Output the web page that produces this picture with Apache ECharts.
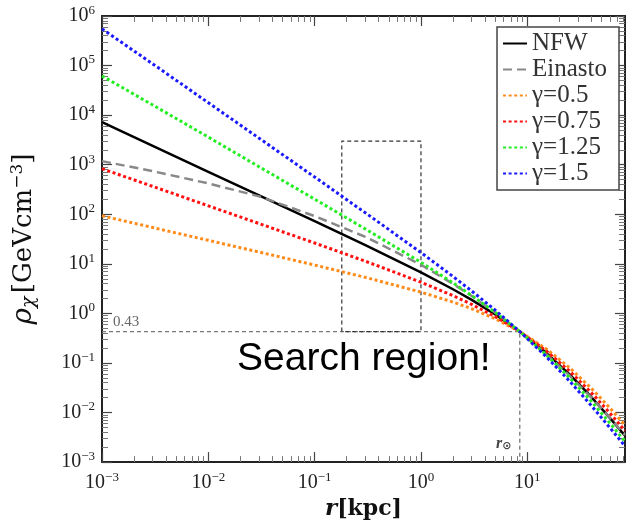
<!DOCTYPE html>
<html>
<head>
<meta charset="utf-8">
<title>Dark matter density profiles</title>
<script src="https://cdn.jsdelivr.net/npm/echarts@6.0.0/dist/echarts.min.js"></script>
<style>
  html, body { margin: 0; padding: 0; background: #fff; }
  #chart { width: 628px; height: 526px; }
</style>
</head>
<body>
<div id="chart"></div>
<script>
// galactocentric radius in kpc
const radius = [0.001, 0.003, 0.01, 0.03, 0.1, 0.3, 1, 2, 3, 5, 8.5, 15, 25, 40, 60, 83];

// density in GeV/cm^3
const nfw = [7200, 2400, 720, 240, 72.5, 23.8, 6.75, 3.07, 1.87, 0.95, 0.43, 0.162, 0.0586, 0.0206, 0.0077, 0.0034];
const einasto = [1180, 740, 420, 230, 92, 35, 9.6, 3.95, 2.24, 1.03, 0.43, 0.153, 0.0555, 0.0201, 0.0078, 0.0035];
const gamma05 = [93, 54, 29.8, 17.3, 9.45, 5.33, 2.69, 1.69, 1.24, 0.778, 0.43, 0.194, 0.080, 0.0308, 0.0123, 0.0055];
const gamma075 = [830, 365, 148, 65, 26.3, 11.3, 4.26, 2.28, 1.52, 0.86, 0.43, 0.177, 0.0685, 0.0252, 0.0097, 0.0043];
const gamma125 = [62000, 16000, 3600, 910, 202, 50.5, 10.7, 4.13, 2.30, 1.05, 0.43, 0.148, 0.0502, 0.0169, 0.0061, 0.0026];
const gamma15 = [550000, 108000, 17800, 3430, 565, 107, 16.9, 5.56, 2.83, 1.16, 0.43, 0.135, 0.043, 0.0138, 0.0049, 0.0021];

// guide lines: local density at the sun, and the search box
const sunGuide = [[0.001, 0.43], [8.5, 0.43], [8.5, 0.001]];
const searchBox = [[0.18, 0.43], [0.18, 3000], [1, 3000], [1, 0.43], [0.18, 0.43]];

// decade ticks
const xDecades = [0.001, 0.01, 0.1, 1, 10];
const yDecades = [0.001, 0.01, 0.1, 1, 10, 100, 1000, 10000, 100000, 1000000];

const X_MIN = 0.001, X_MAX = 83, Y_MIN = 0.001, Y_MAX = 1000000;

function powLabel(v) {
  const e = Math.round(Math.log10(v));
  return '{b|10}{s|' + (e < 0 ? '\u2212' + (-e) : e) + '}';
}

const labelRich = {
  b: { fontFamily: 'Liberation Serif', fontSize: 20, color: '#222', lineHeight: 24 },
  s: { fontFamily: 'Liberation Serif', fontSize: 13, color: '#222', lineHeight: 14, verticalAlign: 'top' }
};

function logAxis(min, max, decades, position, withLabels) {
  return {
    type: 'log', logBase: 10, min: min, max: max, position: position, offset: 0,
    axisLine: { show: true, lineStyle: { color: '#222', width: 2 } },
    axisTick: { show: true, inside: true, length: 10, customValues: decades.slice(), lineStyle: { color: '#444', width: 1.2 } },
    minorTick: { show: true, splitNumber: 9, length: 6, lineStyle: { color: '#777', width: 1 } },
    axisLabel: withLabels
      ? { show: true, customValues: decades.slice(), formatter: powLabel, rich: labelRich }
      : { show: false },
    splitLine: { show: false }
  };
}

const xBottom = logAxis(X_MIN, X_MAX, xDecades, 'bottom', true);
xBottom.axisLabel.margin = 9;
xBottom.name = '{ri|r}{t|[kpc]}';
xBottom.nameLocation = 'middle';
xBottom.nameGap = 35;
xBottom.nameTextStyle = {
  rich: {
    ri: { fontFamily: 'DejaVu Serif', fontStyle: 'italic', fontWeight: 'bold', fontSize: 23, color: '#111' },
    t: { fontFamily: 'DejaVu Serif', fontWeight: 'bold', fontSize: 22, color: '#111' }
  }
};

const yLeft = logAxis(Y_MIN, Y_MAX, yDecades, 'left', true);
yLeft.axisLabel.margin = 7;
yLeft.name = '{r|\u03c1}{c|\u03c7} {t|[GeVcm}{p|\u22123}{t|]}';
yLeft.nameLocation = 'middle';
yLeft.nameRotate = 90;
yLeft.nameGap = 63;
yLeft.nameTextStyle = {
  rich: {
    r: { fontFamily: 'DejaVu Serif', fontStyle: 'italic', fontSize: 28, color: '#111', lineHeight: 30 },
    c: { fontFamily: 'DejaVu Serif', fontStyle: 'italic', fontSize: 19, color: '#111', verticalAlign: 'bottom', lineHeight: 19 },
    t: { fontFamily: 'DejaVu Serif', fontSize: 26, color: '#111', lineHeight: 30 },
    p: { fontFamily: 'DejaVu Serif', fontSize: 17, color: '#111', verticalAlign: 'top', lineHeight: 17 }
  }
};

function pairs(values) {
  return radius.map((r, i) => [r, values[i]]);
}

function profile(name, values, color, type, width) {
  return {
    name: name, type: 'line', data: pairs(values),
    showSymbol: false, symbol: 'none',
    lineStyle: { color: color, width: width, type: type },
    itemStyle: { color: color }
  };
}

const series = [
  { name: 'sun', type: 'line', data: sunGuide, symbol: 'none', lineStyle: { color: '#777', width: 1.3, type: [4, 3] } },
  { name: 'box', type: 'line', data: searchBox, symbol: 'none', lineStyle: { color: '#333', width: 1.2, type: [4, 3] } },
  profile('NFW', nfw, '#000000', 'solid', 2.5),
  profile('Einasto', einasto, '#888888', [9, 5], 2.5),
  profile('\u03b3=0.5', gamma05, '#ff8c1a', [3, 2.6], 3),
  profile('\u03b3=0.75', gamma075, '#ff1010', [3, 2.6], 3),
  profile('\u03b3=1.25', gamma125, '#22ee22', [3, 2.6], 3),
  profile('\u03b3=1.5', gamma15, '#1a1aff', [3, 2.6], 3)
];

const chart = echarts.init(document.getElementById('chart'));

chart.setOption({
  animation: false,
  grid: { left: 102, right: 3, top: 16, bottom: 63 },
  xAxis: [xBottom, logAxis(X_MIN, X_MAX, xDecades, 'top', false)],
  yAxis: [yLeft, logAxis(Y_MIN, Y_MAX, yDecades, 'right', false)],
  legend: {
    orient: 'vertical', right: 9, top: 27,
    backgroundColor: '#fff', borderColor: '#444', borderWidth: 1.5, borderRadius: 0,
    padding: [4, 12, 4, 5], itemWidth: 24, itemHeight: 12, itemGap: 1,
    itemStyle: { opacity: 0 },
    textStyle: { fontFamily: 'Liberation Serif', fontSize: 25, color: '#333' },
    data: ['NFW', 'Einasto', '\u03b3=0.5', '\u03b3=0.75', '\u03b3=1.25', '\u03b3=1.5'],
    selectedMode: false
  },
  title: [
    {
      text: 'Search region!', left: 237, top: 339, padding: 0,
      textStyle: { fontFamily: 'Liberation Sans', fontSize: 39, fontWeight: 'normal', color: '#000', lineHeight: 40 }
    },
    {
      text: '0.43', left: 113, top: 314, padding: 0,
      textStyle: { fontFamily: 'Liberation Serif', fontSize: 15, fontWeight: 'normal', color: '#666', lineHeight: 16 }
    },
    {
      text: '{r|r}{s|\u2299}', left: 496, top: 436, padding: 0,
      textStyle: {
        rich: {
          r: { fontFamily: 'Liberation Serif', fontStyle: 'italic', fontSize: 16, color: '#444', lineHeight: 16 },
          s: { fontFamily: 'DejaVu Sans', fontSize: 11, color: '#444', verticalAlign: 'bottom', lineHeight: 11 }
        }
      }
    }
  ],
  series: series
});
</script>
</body>
</html>
